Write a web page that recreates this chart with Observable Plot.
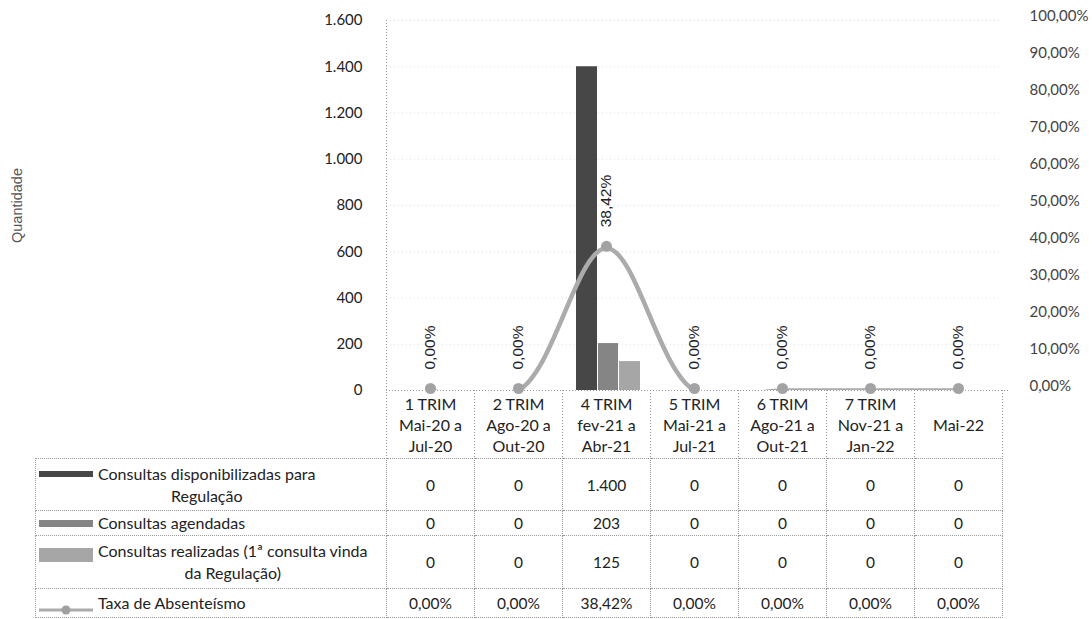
<!DOCTYPE html>
<html><head><meta charset="utf-8">
<script src="https://cdn.jsdelivr.net/npm/d3@7"></script>
<script src="https://cdn.jsdelivr.net/npm/@observablehq/plot@0.6"></script>
<style>
body{margin:0;background:#fff;}
#wrap{position:relative;width:1092px;height:619px;overflow:hidden;font-family:Lato,"Open Sans",sans-serif;background:#fff;}
#chart{position:absolute;left:0;top:0;}
#tbl{position:absolute;left:35px;top:458px;border-collapse:collapse;table-layout:fixed;font-size:15.5px;color:#222;}
#tbl td{border:1px dotted #9a9a9a;text-align:center;padding:0;line-height:22px;}
.leg{display:flex;align-items:flex-start;padding-left:3px;font-size:16px;}
.sw{flex:none;width:54px;margin-right:5px;}
.lt{white-space:pre-line;text-align:center;}
</style>
</head><body>
<div id="wrap"><div id="chart"></div><table id="tbl"></table></div>
<script>
const categories = ["1 TRIM\nMai-20 a\nJul-20", "2 TRIM\nAgo-20 a\nOut-20", "4 TRIM\nfev-21 a\nAbr-21", "5 TRIM\nMai-21 a\nJul-21", "6 TRIM\nAgo-21 a\nOut-21", "7 TRIM\nNov-21 a\nJan-22", "Mai-22"];
const disponibilizadas = [0, 0, 1400, 0, 0, 0, 0];
const agendadas = [0, 0, 203, 0, 0, 0, 0];
const realizadas = [0, 0, 125, 0, 0, 0, 0];
const taxa = [0, 0, 38.42, 0, 0, 0, 0];
const seriesNames = ["Consultas disponibilizadas para\nRegulação", "Consultas agendadas", "Consultas realizadas (1ª consulta vinda\nda Regulação)", "Taxa de Absenteísmo"];
const seriesColors = ["#474747", "#858585", "#a6a6a6", "#ababab"];
const qtyTicks = [0, 200, 400, 600, 800, 1000, 1200, 1400, 1600];
const pctTicks = [0, 10, 20, 30, 40, 50, 60, 70, 80, 90, 100];
const axisTitle = "Quantidade";

const loc = d3.formatLocale({decimal: ",", thousands: ".", grouping: [3], currency: ["R$", ""]});
const fmtNum = loc.format(",d");
const fmtPct = v => loc.format(",.2f")(v) + "%";
const PCT = 16; // 100% on the right axis == 1600 on the left axis

const rowsOf = arr => categories.map((c, i) => ({cat: c, v: arr[i]}));
const d1 = rowsOf(disponibilizadas), d2 = rowsOf(agendadas), d3r = rowsOf(realizadas), dt = rowsOf(taxa);

const chart = Plot.plot({
  width: 1092, height: 458,
  marginLeft: 386, marginRight: 90, marginTop: 20, marginBottom: 68,
  style: {fontFamily: "Lato, 'Open Sans', sans-serif", fontSize: "15px", color: "#222", background: "transparent"},
  x: {type: "band", domain: categories, padding: 0, axis: null},
  y: {domain: [0, 1600], axis: null},
  marks: [
    Plot.ruleY(qtyTicks.slice(1), {stroke: "#dcdcdc", strokeDasharray: "1,3"}),
    Plot.ruleX([categories[0]], {dx: -44, insetBottom: -68, stroke: "#9a9a9a", strokeDasharray: "1,2"}),
    Plot.ruleX(categories, {dx: 44, y1: 0, y2: 0, insetBottom: -68, stroke: "#9a9a9a", strokeDasharray: "1,2"}),
    Plot.ruleY([0], {stroke: "#9a9a9a", strokeDasharray: "1,2", insetRight: -8}),
    Plot.barY(d1, {x: "cat", y: "v", fill: seriesColors[0], insetLeft: 14, insetRight: 53}),
    Plot.barY(d2, {x: "cat", y: "v", fill: seriesColors[1], insetLeft: 36, insetRight: 32}),
    Plot.barY(d3r, {x: "cat", y: "v", fill: seriesColors[2], insetLeft: 57, insetRight: 10}),
    Plot.line(dt, {x: "cat", y: d => d.v * PCT, curve: "catmull-rom", stroke: seriesColors[3], strokeWidth: 4.5, clip: true}),
    Plot.dot(dt, {x: "cat", y: d => d.v * PCT, r: 5.5, fill: "#a3a3a3", dy: -2}),
    Plot.text(dt, {x: "cat", y: d => d.v * PCT, text: d => fmtPct(d.v), rotate: -90, textAnchor: "start", dy: -21, fontSize: 15.5, fontFamily: "'Liberation Sans', Arial, sans-serif", fill: "#222"}),
    Plot.axisY(qtyTicks, {anchor: "left", tickSize: 0, tickPadding: 24, tickFormat: fmtNum, label: null, fontSize: 15}),
    Plot.axisY(pctTicks.map(p => p * PCT), {anchor: "right", tickSize: 0, tickPadding: 27, tickFormat: v => fmtPct(v / PCT), label: null, fontSize: 15, fill: "#444", dy: -4}),
    Plot.text([axisTitle], {frameAnchor: "left", dx: -369, rotate: -90, textAnchor: "middle", fontSize: 14.5, fontFamily: "'Liberation Sans', Arial, sans-serif", fill: "#555"}),
    Plot.text(categories, {x: d => d, frameAnchor: "bottom", dy: 34, lineAnchor: "middle", lineHeight: 1.3, fontSize: 16, fill: "#222"})
  ]
});
document.getElementById("chart").appendChild(chart);

// data table below the chart
const tableRows = [
  {name: seriesNames[0], color: seriesColors[0], kind: "bar", h: 6, vals: disponibilizadas.map(fmtNum), height: 52},
  {name: seriesNames[1], color: seriesColors[1], kind: "bar", h: 7, vals: agendadas.map(fmtNum), height: 25},
  {name: seriesNames[2], color: seriesColors[2], kind: "bar", h: 14, vals: realizadas.map(fmtNum), height: 53},
  {name: seriesNames[3], color: seriesColors[3], kind: "line", h: 10, vals: taxa.map(fmtPct), height: 29}
];
const tbl = document.getElementById("tbl");
const cg = document.createElement("colgroup");
[351, ...categories.map(() => 88)].forEach(w => { const c = document.createElement("col"); c.style.width = w + "px"; cg.appendChild(c); });
tbl.appendChild(cg);
tableRows.forEach(r => {
  const tr = document.createElement("tr");
  tr.style.height = r.height + "px";
  const td0 = document.createElement("td");
  const leg = document.createElement("div"); leg.className = "leg";
  const sw = document.createElement("div"); sw.className = "sw";
  if (r.kind === "bar") {
    sw.style.height = r.h + "px"; sw.style.background = r.color; sw.style.marginTop = ((22 - r.h) / 2 + (r.h > 10 ? 4 : 0)) + "px";
  } else {
    sw.style.height = "10px"; sw.style.marginTop = "6px";
    sw.innerHTML = '<svg width="54" height="10"><line x1="0" y1="5" x2="54" y2="5" stroke="' + r.color + '" stroke-width="3"/><circle cx="27" cy="5" r="4.5" fill="#a0a0a0"/></svg>';
  }
  const lt = document.createElement("div"); lt.className = "lt"; lt.textContent = r.name;
  leg.appendChild(sw); leg.appendChild(lt); td0.appendChild(leg); tr.appendChild(td0);
  r.vals.forEach(v => { const td = document.createElement("td"); td.textContent = v; tr.appendChild(td); });
  tbl.appendChild(tr);
});
</script>
</body></html>
